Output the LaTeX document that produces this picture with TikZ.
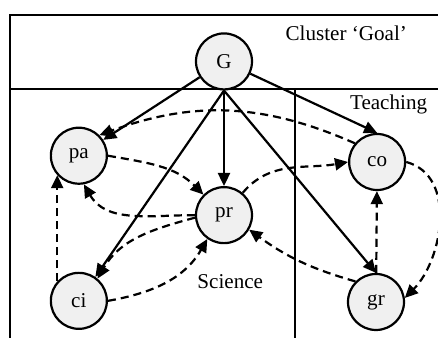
\documentclass[tikz,border=0pt]{standalone}
\usepackage{fontspec}
\setmainfont{Liberation Serif}
\usepackage{tikz}
\usetikzlibrary{arrows.meta}

\begin{document}
\begin{tikzpicture}[line width=1.1pt,
    every node/.style={font=\fontsize{10.5}{12}\selectfont},
    var/.style={circle,draw,fill=gray!12,minimum size=0.98cm,inner sep=0pt},
    link/.style={-{Triangle[length=6.5pt,width=6pt]}},
    dep/.style={link,dash pattern=on 4pt off 2.5pt}]
    \useasboundingbox (0,0) rectangle (7.665,5.915);
    \draw (0.175,0) -- (0.175,5.65) -- (7.665,5.65)
    (0.175,4.36) -- (7.665,4.36) (5.16,4.36) -- (5.16,0);
    \node[var] (G) at (3.92,4.84) {G};
    \node[var] (pa) at (1.38,3.19) {pa};
    \node[var] (co) at (6.6,3.08) {co};
    \node[var] (pr) at (3.92,2.15) {pr};
    \node[var] (ci) at (1.38,0.65) {ci};
    \node[var] (gr) at (6.58,0.63) {gr};
    \node (goal) at (6.06,5.34) {Cluster ‘Goal’};
    \node (teach) at (6.8,4.08) {Teaching};
    \node (sci) at (4.03,0.98) {Science};
    \draw[link] (G) -- (pa);
    \draw[link] (G.south) -- (ci);
    \draw[link] (G) -- (pr);
    \draw[link] (G.south) -- (gr.north);
    \draw[link] (G) -- (co.north);
    \draw[dep] (co.140) to[bend right=22] (pa.45);
    \draw[dep] (pa.east) to[out=-10,in=135] (pr.135);
    \draw[dep] (pr.50) to[out=50,in=190] (co.west);
    \draw[dep] (pr.west) to[out=180,in=-60] (pa.-80);
    \draw[dep] (pr.185) to[out=195,in=60] (ci.50);
    \draw[dep] (ci.east) to[out=10,in=-120] (pr.-125);
    \draw[dep] (ci.138) -- (pa.222);
    \draw[dep] (gr) -- (co);
    \draw[dep] (co.east) to[out=-15,in=45] (gr.8);
    \draw[dep] (gr.135) to[bend left=10] (pr.-30);
\end{tikzpicture}
\end{document}
